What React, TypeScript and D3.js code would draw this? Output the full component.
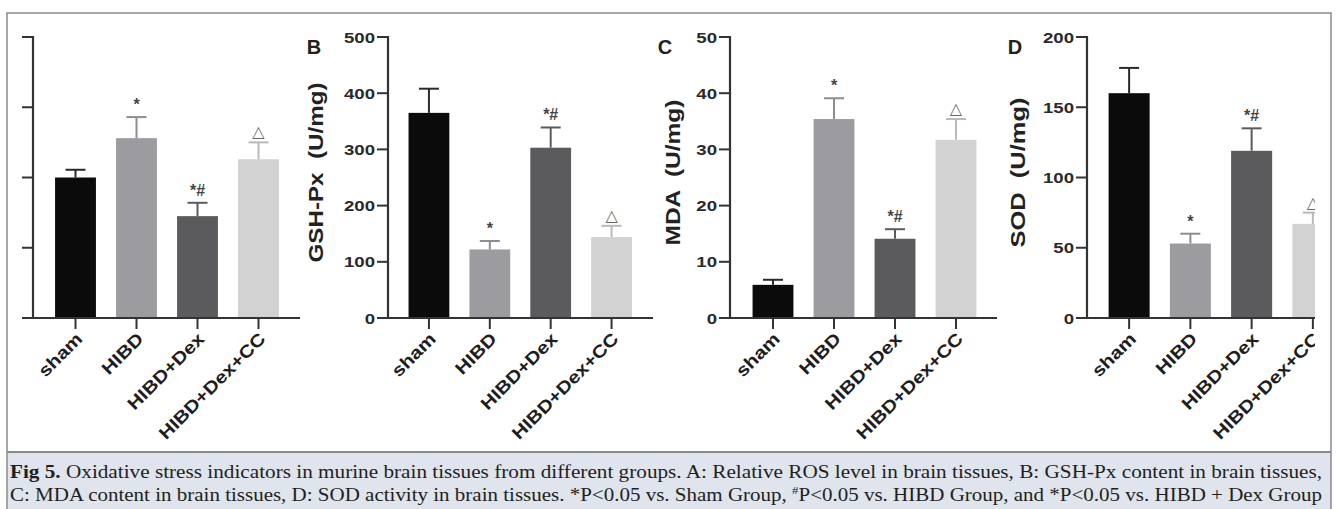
import React from "react"
import { scaleBand, scaleLinear } from "d3"

// groups and values
const groups = ["sham", "HIBD", "HIBD+Dex", "HIBD+Dex+CC"]
const barColors = ["#0b0b0b", "#9c9ca0", "#5b5b5d", "#d2d2d2"]
const errColors = ["#2a2a2a", "#8d8d91", "#5b5b5d", "#b9b9b9"]
const marks = ["", "*", "*#", "△"]

const rosMean = [1.0, 1.28, 0.725, 1.13]
const rosErr = [0.055, 0.15, 0.095, 0.12]
const rosTicks = [0, 0.5, 1, 1.5, 2]

const gshMean = [365, 122, 303, 144]
const gshErr = [43, 15, 36, 20]
const gshTicks = [0, 100, 200, 300, 400, 500]

const mdaMean = [5.9, 35.4, 14.1, 31.7]
const mdaErr = [0.9, 3.7, 1.7, 3.7]
const mdaTicks = [0, 10, 20, 30, 40, 50]

const sodMean = [160, 53, 119, 67]
const sodErr = [18, 7, 16, 8]
const sodTicks = [0, 50, 100, 150, 200]

const Y0 = 318
const Y1 = 37
const AXIS = "#333"
const LABEL_FONT = "'Liberation Sans', Arial, sans-serif"

interface PanelProps {
  letter: string
  title: string
  means: number[]
  errs: number[]
  ticks: number[]
  axisX: number
  axisEnd: number
  band: [number, number]
  letterX: number
  titleX: number
  titleLen: number
  showTickLabels?: boolean
  clipId?: string
}

function Panel(p: PanelProps) {
  const y = scaleLinear()
    .domain([p.ticks[0], p.ticks[p.ticks.length - 1]])
    .range([Y0, Y1])
  const x = scaleBand<string>()
    .domain(groups)
    .range(p.band)
    .paddingInner(0.33)
    .paddingOuter(0.165)
  const bw = x.bandwidth()

  return (
    <g clipPath={p.clipId ? `url(#${p.clipId})` : undefined}>
      {/* bars */}
      {groups.map((g, i) => (
        <rect
          key={g}
          x={x(g)!}
          y={y(p.means[i])}
          width={bw}
          height={Y0 - y(p.means[i])}
          fill={barColors[i]}
        />
      ))}
      {/* error bars */}
      {groups.map((g, i) => {
        const cx = x(g)! + bw / 2
        const top = y(p.means[i] + p.errs[i])
        return (
          <g key={g} stroke={errColors[i]} strokeWidth={2}>
            <line x1={cx} x2={cx} y1={y(p.means[i])} y2={top} />
            <line x1={cx - 10} x2={cx + 10} y1={top} y2={top} />
          </g>
        )
      })}
      {/* significance marks */}
      {groups.map((g, i) => {
        const cx = x(g)! + bw / 2
        const top = y(p.means[i] + p.errs[i])
        const m = marks[i]
        if (!m) return null
        if (m === "△")
          return (
            <text key={g} x={cx} y={top - 5} textAnchor="middle" fontSize={16}
              fill="#666" fontFamily="'DejaVu Sans', sans-serif">
              {m}
            </text>
          )
        return (
          <text key={g} x={cx} y={top - 7} textAnchor="middle" fontSize={16}
            fontWeight="bold" fill="#444" fontFamily={LABEL_FONT}>
            {m}
          </text>
        )
      })}
      {/* y axis */}
      <line x1={p.axisX} x2={p.axisX} y1={Y1 - 1} y2={Y0} stroke={AXIS} strokeWidth={2.2} />
      {p.ticks.map((t) => (
        <g key={t}>
          <line x1={p.axisX - 11} x2={p.axisX} y1={y(t)} y2={y(t)} stroke={AXIS} strokeWidth={2} />
          {p.showTickLabels !== false && (
            <text
              transform={`translate(${p.axisX - 13},${y(t) + 5.5}) scale(1.2,1)`}
              textAnchor="end"
              fontSize={15.5}
              fontWeight="bold"
              fill="#2a2a2a"
              fontFamily={LABEL_FONT}
            >
              {t}
            </text>
          )}
        </g>
      ))}
      {/* x axis */}
      <line x1={p.axisX - 1} x2={p.axisEnd} y1={Y0} y2={Y0} stroke={AXIS} strokeWidth={2.2} />
      {groups.map((g) => {
        const cx = x(g)! + bw / 2
        return (
          <g key={g}>
            <line x1={cx} x2={cx} y1={Y0} y2={Y0 + 11} stroke={AXIS} strokeWidth={2} />
            <text
              transform={`translate(${cx + 8},${Y0 + 22}) rotate(-45) scale(1.18,1)`}
              textAnchor="end"
              fontSize={17.5}
              fontWeight="bold"
              fill="#1e1e1e"
              fontFamily={LABEL_FONT}
            >
              {g}
            </text>
          </g>
        )
      })}
      {/* panel letter and y title */}
      {p.letter && (
        <text x={p.letterX} y={54} textAnchor="middle" fontSize={20} fontWeight="bold"
          fill="#222" fontFamily={LABEL_FONT}>
          {p.letter}
        </text>
      )}
      {p.title && (
        <text
          transform={`translate(${p.titleX + 7},${(Y0 + Y1) / 2 - 5}) rotate(-90)`}
          textAnchor="middle"
          fontSize={20}
          fontWeight="bold"
          fill="#222"
          fontFamily={LABEL_FONT}
          textLength={p.titleLen}
          lengthAdjust="spacingAndGlyphs"
          style={{ whiteSpace: "pre" }}
        >
          {p.title}
        </text>
      )}
    </g>
  )
}

export default function App() {
  const W = 1336
  const H = 509
  return (
    <svg
      width={W}
      height={H}
      style={{ position: "absolute", left: 0, top: 0, background: "#fff" }}
    >
      <defs>
        <clipPath id="clipA">
          <rect x={8} y={14} width={300} height={436} />
        </clipPath>
        <clipPath id="clipD">
          <rect x={990} y={14} width={325} height={436} />
        </clipPath>
      </defs>

      <Panel letter="" title="" means={rosMean} errs={rosErr} ticks={rosTicks}
        axisX={33} axisEnd={300} band={[45, 289]} letterX={0} titleX={0} titleLen={0}
        showTickLabels={false} clipId="clipA" />
      <Panel letter="B" title="GSH-Px  (U/mg)" means={gshMean} errs={gshErr} ticks={gshTicks}
        axisX={388} axisEnd={653} band={[398.5, 642]} letterX={314} titleX={316} titleLen={180} />
      <Panel letter="C" title="MDA  (U/mg)" means={mdaMean} errs={mdaErr} ticks={mdaTicks}
        axisX={730} axisEnd={997} band={[742.5, 986.5]} letterX={665} titleX={673} titleLen={146} />
      <Panel letter="D" title="SOD  (U/mg)" means={sodMean} errs={sodErr} ticks={sodTicks}
        axisX={1087} axisEnd={1320} band={[1098.5, 1343.5]} letterX={1015} titleX={1018} titleLen={150}
        clipId="clipD" />

      {/* caption box */}
      <rect x={7} y={452} width={1324} height={60} fill="#dfe4ed" />
      <line x1={7} x2={1331} y1={452} y2={452} stroke="#8a8a8a" strokeWidth={2} />
      <rect x={7} y={13} width={1324} height={500} fill="none" stroke="#8a8a8a" strokeWidth={1.5} />

      <text x={10} y={478} fontSize={18} fill="#231f20" fontFamily="'Liberation Serif', serif"
        textLength={1312} lengthAdjust="spacingAndGlyphs">
        <tspan fontWeight="bold">Fig 5.</tspan>
        {" Oxidative stress indicators in murine brain tissues from different groups. A: Relative ROS level in brain tissues, B: GSH-Px content in brain tissues,"}
      </text>
      <text x={10} y={501} fontSize={18} fill="#231f20" fontFamily="'Liberation Serif', serif"
        textLength={1312} lengthAdjust="spacingAndGlyphs">
        {"C: MDA content in brain tissues, D: SOD activity in brain tissues. *P<0.05 vs. Sham Group, "}
        <tspan fontSize={11} dy={-7}>#</tspan>
        <tspan dy={7}>{"P<0.05 vs. HIBD Group, and *P<0.05 vs. HIBD + Dex Group"}</tspan>
      </text>
    </svg>
  )
}
